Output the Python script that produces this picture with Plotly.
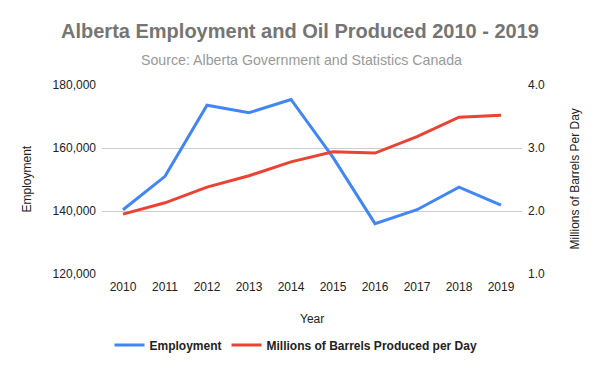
import plotly.graph_objects as go

years = ["2010", "2011", "2012", "2013", "2014", "2015", "2016", "2017", "2018", "2019"]
employment = [140400, 151000, 173600, 171200, 175400, 157000, 136000, 140400, 147600, 141900]
oil_mbpd = [1.95, 2.13, 2.38, 2.56, 2.78, 2.94, 2.92, 3.18, 3.49, 3.52]

left_ticks = [120000, 140000, 160000, 180000]
left_labels = ["120,000", "140,000", "160,000", "180,000"]
right_ticks = [1.0, 2.0, 3.0, 4.0]
right_labels = ["1.0", "2.0", "3.0", "4.0"]

FONT = "Liberation Sans, Arial, sans-serif"
# page body adds an 8px offset; figure is sized to fill the remaining window
OFF = 8
W, H = 600 - OFF, 371 - OFF
PLOT_L, PLOT_R, PLOT_T, PLOT_B = 102, 522, 85, 274  # screen coordinates of plot area
L, R, T, B = PLOT_L - OFF, 600 - PLOT_R, PLOT_T - OFF, 371 - PLOT_B
PW, PH = W - L - R, H - T - B


def px_x(x):
    return (x - OFF - L) / PW


def px_y(y):
    return (H - B - (y - OFF)) / PH


fig = go.Figure()
fig.add_trace(go.Scatter(x=years, y=employment, name="Employment", mode="lines",
                         line=dict(color="#4285F4", width=3), yaxis="y"))
fig.add_trace(go.Scatter(x=years, y=oil_mbpd, name="Millions of Barrels Produced per Day", mode="lines",
                         line=dict(color="#EA4335", width=3), yaxis="y2"))

axis_title_font = dict(family=FONT, size=12, color="#222222")

fig.update_layout(
    width=W, height=H,
    margin=dict(l=L, r=R, t=T, b=B, autoexpand=False),
    paper_bgcolor="white", plot_bgcolor="white",
    font=dict(family=FONT, size=12, color="#222222"),
    title=dict(text="<b>Alberta Employment and Oil Produced 2010 - 2019</b>",
               x=(300 - OFF) / W, xref="container", xanchor="center",
               y=1 - (31 - OFF) / H, yref="container", yanchor="middle",
               font=dict(family=FONT, size=20, color="#757575")),
    annotations=[
        dict(text="Source: Alberta Government and Statistics Canada",
             xref="paper", yref="paper", x=px_x(301), y=px_y(60),
             xanchor="center", yanchor="middle", showarrow=False,
             font=dict(family=FONT, size=14.2, color="#999999")),
        dict(text="Employment", xref="paper", yref="paper", x=px_x(26), y=0.5,
             xanchor="center", yanchor="middle", textangle=-90, showarrow=False,
             font=axis_title_font),
        dict(text="Millions of Barrels Per Day", xref="paper", yref="paper", x=px_x(574), y=0.5,
             xanchor="center", yanchor="middle", textangle=-90, showarrow=False,
             font=axis_title_font),
        dict(text="Year", xref="paper", yref="paper", x=0.5, y=px_y(319),
             xanchor="center", yanchor="middle", showarrow=False,
             font=axis_title_font),
    ],
    xaxis=dict(type="category", range=[-0.5, 9.5], showgrid=False, showline=False,
               ticks="", tickfont=dict(size=12, color="#222222"), automargin=False,
               ticklabelstandoff=4),
    yaxis=dict(range=[120000, 180000], tickvals=left_ticks, ticktext=left_labels,
               showgrid=True, gridcolor="#CCCCCC", gridwidth=1, zeroline=False,
               ticks="", tickfont=dict(size=12, color="#222222"), automargin=False,
               ticklabelstandoff=5),
    yaxis2=dict(range=[1.0, 4.0], tickvals=right_ticks, ticktext=right_labels,
                overlaying="y", side="right", showgrid=False, zeroline=False,
                ticks="", tickfont=dict(size=12, color="#222222"), automargin=False,
                ticklabelstandoff=5),
    legend=dict(orientation="h", x=px_x(296), xanchor="center", y=px_y(345), yanchor="middle",
                font=dict(size=12, color="#222222", family=FONT, weight="bold"),
                bgcolor="rgba(0,0,0,0)", itemwidth=30),
    showlegend=True,
)

fig.write_html("out.html")
